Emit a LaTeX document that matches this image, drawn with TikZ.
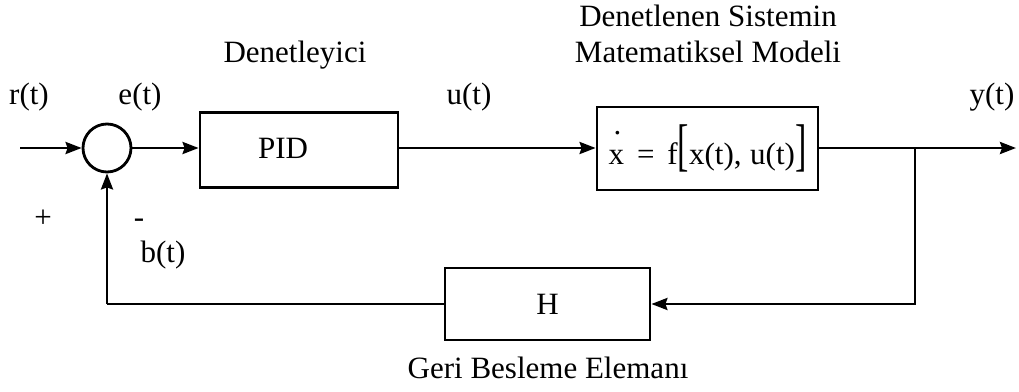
\documentclass[tikz,border=0pt]{standalone}
\usepackage{fontspec}
\setmainfont{Liberation Serif}
\usepackage{graphicx}
\usetikzlibrary{arrows.meta}
\newcommand{\xdotchar}{\makebox[0pt][l]{\hspace{5pt}\raisebox{30pt}{.}}x}
\newcommand{\bigbr}[1]{\scalebox{1.1}[1.85]{#1}}
\begin{document}
\begin{tikzpicture}[x=1pt,y=-1pt,
  every node/.style={font=\fontsize{31}{36}\selectfont},
  blk/.style={draw, line width=2.8pt, inner sep=0pt},
  sig/.style={line width=2.8pt},
  arr/.style={sig, -{Stealth[length=16pt,width=12pt,inset=2pt]}},
  lbl/.style={anchor=base, inner sep=0pt}]
\useasboundingbox (0,0) rectangle (1019,391);
% blocks
\node[blk, circle, minimum size=48pt] (sum) at (107,148) {};
\node[blk, minimum width=198pt, minimum height=75pt] (pid) at (299,150) {};
\node (pidtxt) at (283,148) {PID};
\node[blk, minimum width=221pt, minimum height=83pt] (plant) at (707.5,148.5)
  {\raisebox{-6pt}{\xdotchar\ \,=\ \,f\bigbr{[}x(t),\;u(t)\bigbr{]}}};
\node[blk, minimum width=205pt, minimum height=72pt] (hbox) at (547.5,304) {H};
% coordinates
\coordinate (in) at (20,148);
\coordinate (out) at (1016,148);
\coordinate (j) at (915,148);
\coordinate (fbl) at (107,304);
% connectors
\draw[arr] (in) -- (sum.west);
\draw[arr] (sum.east) -- (pid.west |- sum.east);
\draw[arr] (pid.east |- sum.east) -- (plant.west |- sum.east);
\draw[arr] (plant.east |- sum.east) -- (out);
\draw[arr] (j) |- (hbox.east);
\draw[sig] (hbox.west) -- (fbl);
\draw[arr] (fbl) -- (sum.south);
% labels
\node[lbl] (rt) at (29,104) {r(t)};
\node[lbl] (et) at (140,104) {e(t)};
\node[lbl] (ut) at (469,104) {u(t)};
\node[lbl] (yt) at (992,104) {y(t)};
\node[lbl] (ctl) at (295,62) {Denetleyici};
\node[lbl] (sys1) at (708,26) {Denetlenen Sistemin};
\node[lbl] (sys2) at (708,62) {Matematiksel Modeli};
\node[lbl] (plus) at (43,227) {+};
\node[lbl] (minus) at (139,227) {-};
\node[lbl] (bt) at (163,262) {b(t)};
\node[lbl] (geri) at (548,378) {Geri Besleme Elemanı};
\end{tikzpicture}
\end{document}
